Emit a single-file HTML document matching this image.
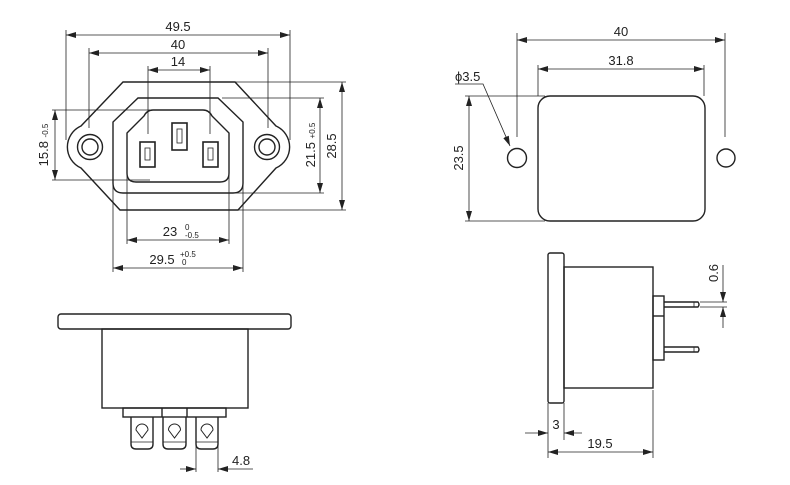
<!DOCTYPE html>
<html><head><meta charset="utf-8"><style>html,body{margin:0;padding:0;background:#fff}svg{display:block}</style></head><body>
<svg width="790" height="485" viewBox="0 0 790 485" xmlns="http://www.w3.org/2000/svg" font-family="Liberation Sans, Arial, sans-serif" font-size="13" fill="none" stroke="#222">
<defs>
<marker id="a" viewBox="0 0 10 6" refX="10" refY="3" markerWidth="10" markerHeight="6" orient="auto-start-reverse" markerUnits="userSpaceOnUse"><path d="M0,0 L10,3 L0,6z" fill="#222" stroke="none"/></marker>
</defs>
<g stroke-width="0.8">
<line x1="66" y1="30" x2="66" y2="140"/><line x1="290" y1="30" x2="290" y2="140"/>
<line x1="66" y1="35" x2="290" y2="35" marker-start="url(#a)" marker-end="url(#a)"/>
<line x1="89" y1="48" x2="89" y2="128"/><line x1="268" y1="48" x2="268" y2="128"/>
<line x1="89" y1="53" x2="268" y2="53" marker-start="url(#a)" marker-end="url(#a)"/>
<line x1="148" y1="66" x2="148" y2="134"/><line x1="210" y1="66" x2="210" y2="134"/>
<line x1="148" y1="70" x2="210" y2="70" marker-start="url(#a)" marker-end="url(#a)"/>
<line x1="52" y1="110" x2="150" y2="110"/><line x1="52" y1="180" x2="150" y2="180"/>
<line x1="55" y1="110" x2="55" y2="180" marker-start="url(#a)" marker-end="url(#a)"/>
<line x1="222" y1="98" x2="324" y2="98"/><line x1="230" y1="193" x2="324" y2="193"/>
<line x1="320" y1="98" x2="320" y2="193" marker-start="url(#a)" marker-end="url(#a)"/>
<line x1="235" y1="82" x2="346" y2="82"/><line x1="238" y1="210" x2="346" y2="210"/>
<line x1="342" y1="82" x2="342" y2="210" marker-start="url(#a)" marker-end="url(#a)"/>
<line x1="127" y1="173" x2="127" y2="244"/><line x1="229" y1="173" x2="229" y2="244"/>
<line x1="127" y1="240" x2="229" y2="240" marker-start="url(#a)" marker-end="url(#a)"/>
<line x1="113" y1="183" x2="113" y2="272"/><line x1="243" y1="183" x2="243" y2="272"/>
<line x1="113" y1="268" x2="243" y2="268" marker-start="url(#a)" marker-end="url(#a)"/>
</g>
<g stroke-width="1.4">
<path d="M123,82 H235 L276,126 A23,23 0 0 1 276,168 L238,210 H120 L81,168 A23,23 0 0 1 81,126 Z"/>
<circle cx="90" cy="147" r="12.5"/><circle cx="90" cy="147" r="8"/>
<circle cx="267" cy="147" r="12.5"/><circle cx="267" cy="147" r="8"/>
<path d="M138,98 H218 L243,122 V183 Q243,193 233,193 H123 Q113,193 113,183 V122 Z"/>
<path d="M153,110 H203 Q209,110 212,116 L229,133 V173 Q229,182 220,182 H136 Q127,182 127,173 V133 L144,116 Q147,110 153,110 Z"/>
<rect x="140" y="142" width="15" height="25" stroke-width="1.6"/><rect x="145" y="148" width="5" height="12" stroke-width="0.8"/>
<rect x="172" y="123" width="15" height="27" stroke-width="1.6"/><rect x="177" y="129" width="5" height="14" stroke-width="0.8"/>
<rect x="203" y="142" width="15" height="25" stroke-width="1.6"/><rect x="208" y="148" width="5" height="12" stroke-width="0.8"/>
</g>
<g fill="#222" stroke="none">
<text x="178" y="31" text-anchor="middle">49.5</text>
<text x="178" y="49" text-anchor="middle">40</text>
<text x="178" y="66" text-anchor="middle">14</text>
<text x="170" y="236" text-anchor="middle">23</text><text x="185" y="230" font-size="8">0</text><text x="185" y="238" font-size="8">-0.5</text>
<text x="162" y="264" text-anchor="middle">29.5</text><text x="180" y="257" font-size="8">+0.5</text><text x="182" y="265" font-size="8">0</text>
<text transform="translate(48,145) rotate(-90)" text-anchor="middle">15.8 <tspan font-size="8">-0.5</tspan></text>
<text transform="translate(315,145) rotate(-90)" text-anchor="middle">21.5 <tspan font-size="8">+0.5</tspan></text>
<text transform="translate(336,146) rotate(-90)" text-anchor="middle">28.5</text>
</g>
<g stroke-width="0.8">
<line x1="517" y1="33" x2="517" y2="137"/><line x1="725" y1="33" x2="725" y2="137"/>
<line x1="517" y1="40" x2="725" y2="40" marker-start="url(#a)" marker-end="url(#a)"/>
<line x1="538" y1="65" x2="538" y2="96"/><line x1="704" y1="65" x2="704" y2="96"/>
<line x1="538" y1="69" x2="704" y2="69" marker-start="url(#a)" marker-end="url(#a)"/>
<line x1="465" y1="96" x2="545" y2="96"/><line x1="465" y1="221" x2="545" y2="221"/>
<line x1="469" y1="96" x2="469" y2="221" marker-start="url(#a)" marker-end="url(#a)"/>
<polyline points="455,84 483,84 510,146" marker-end="url(#a)"/>
</g>
<g stroke-width="1.4">
<rect x="538" y="96" width="167" height="125" rx="12"/>
<circle cx="517" cy="158" r="9.5"/><circle cx="726" cy="158" r="9"/>
</g>
<g fill="#222" stroke="none">
<text x="621" y="36" text-anchor="middle">40</text>
<text x="621" y="65" text-anchor="middle">31.8</text>
<text x="455" y="81">ϕ3.5</text>
<text transform="translate(463,158) rotate(-90)" text-anchor="middle">23.5</text>
</g>
<g stroke-width="1.4">
<rect x="58" y="314" width="233" height="15" rx="3"/>
<rect x="102" y="329" width="146" height="79"/>
<rect x="123" y="408" width="103" height="9"/>
<line x1="162" y1="408" x2="162" y2="417"/><line x1="187" y1="408" x2="187" y2="417"/>
<path d="M131,417 V444 Q131,449 136,449 H148 Q153,449 153,444 V417"/><line x1="131" y1="442" x2="153" y2="442" stroke-width="0.8"/>
<path d="M163,417 V444 Q163,449 168,449 H181 Q186,449 186,444 V417"/><line x1="163" y1="442" x2="186" y2="442" stroke-width="0.8"/>
<path d="M196,417 V444 Q196,449 201,449 H213 Q218,449 218,444 V417"/><line x1="196" y1="442" x2="218" y2="442" stroke-width="0.8"/>
<path d="M142,438 L136,430 A6,6 0 1 1 148,430 Z" stroke-width="1"/>
<path d="M174.5,438 L168.5,430 A6,6 0 1 1 180.5,430 Z" stroke-width="1"/>
<path d="M207,438 L201,430 A6,6 0 1 1 213,430 Z" stroke-width="1"/>
</g>
<g stroke-width="0.8">
<line x1="196" y1="445" x2="196" y2="472"/><line x1="218" y1="445" x2="218" y2="472"/>
<line x1="180" y1="469" x2="196" y2="469" marker-end="url(#a)"/>
<line x1="253" y1="469" x2="218" y2="469" marker-end="url(#a)"/>
</g>
<text x="232" y="465" fill="#222" stroke="none">4.8</text>
<g stroke-width="1.4">
<rect x="548" y="253" width="16" height="150" rx="2"/>
<rect x="564" y="267" width="89" height="121"/>
<rect x="653" y="296" width="11" height="64"/><line x1="653" y1="316" x2="664" y2="316"/>
<path d="M664,302 H698 Q700,304.5 698,307 H664"/><line x1="694" y1="302" x2="694" y2="307" stroke-width="0.8"/>
<path d="M664,347 H698 Q700,349.5 698,352 H664"/><line x1="694" y1="347" x2="694" y2="352" stroke-width="0.8"/>
</g>
<g stroke-width="0.8">
<line x1="700" y1="302" x2="727" y2="302"/><line x1="700" y1="307" x2="727" y2="307"/>
<line x1="723" y1="265" x2="723" y2="302" marker-end="url(#a)"/>
<line x1="723" y1="328" x2="723" y2="307" marker-end="url(#a)"/>
<line x1="548" y1="403" x2="548" y2="458"/><line x1="564" y1="403" x2="564" y2="440"/><line x1="653" y1="390" x2="653" y2="458"/>
<line x1="525" y1="433" x2="548" y2="433" marker-end="url(#a)"/>
<line x1="582" y1="433" x2="564" y2="433" marker-end="url(#a)"/>
<line x1="548" y1="452" x2="653" y2="452" marker-start="url(#a)" marker-end="url(#a)"/>
</g>
<g fill="#222" stroke="none">
<text transform="translate(718,273) rotate(-90)" text-anchor="middle">0.6</text>
<text x="556" y="429" text-anchor="middle">3</text>
<text x="600" y="448" text-anchor="middle">19.5</text>
</g>
</svg>
</body></html>
